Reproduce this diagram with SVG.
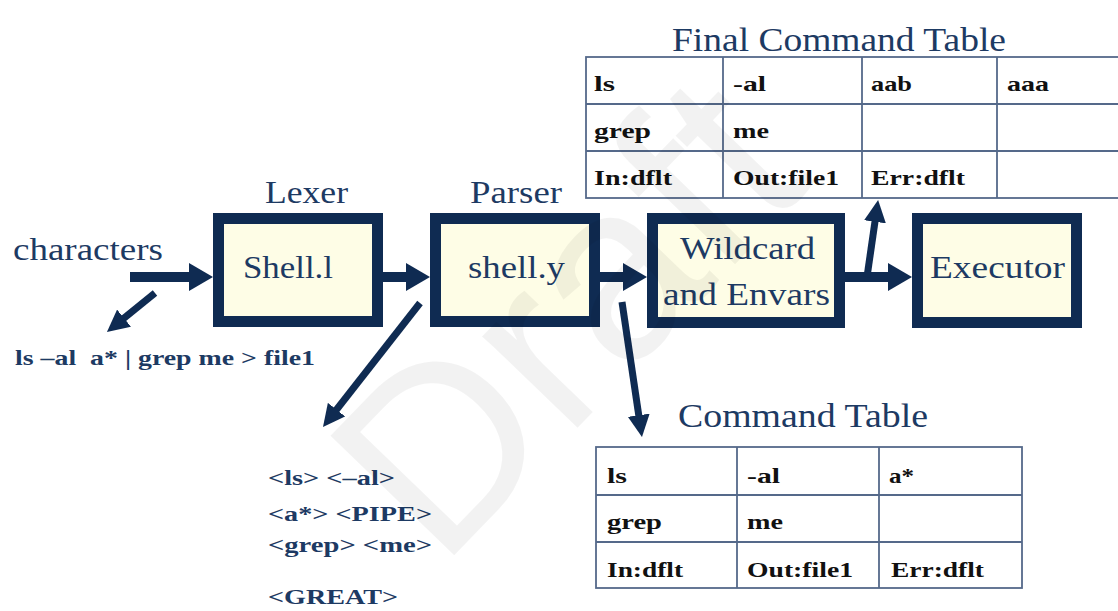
<svg xmlns="http://www.w3.org/2000/svg" width="1118" height="611" viewBox="0 0 1118 611">
<defs>
<style>
.box{fill:#fefde6;stroke:#0f2b52;stroke-width:11}
.lbl{font-family:"Liberation Serif","Times New Roman",serif;fill:#1d3a63}
.big{font-size:32px}
.ttl{font-size:31px}
.tt2{font-size:33px}
.tok{font-family:"Liberation Serif","Times New Roman",serif;font-weight:bold;font-size:22px;fill:#1d3a63}
.cell{font-family:"Liberation Serif","Times New Roman",serif;font-weight:bold;font-size:22px;fill:#111}
.grid{stroke:#55698a;stroke-width:1.8;fill:none}
.thick{stroke:#0f2b52;stroke-width:10;fill:none}
.thin{stroke:#0f2b52;stroke-width:7;fill:none}
.wm{font-family:"Liberation Sans",Arial,sans-serif;font-size:250px;fill:#000;fill-opacity:0.05}
</style>
<marker id="hbig" markerUnits="userSpaceOnUse" markerWidth="24" markerHeight="28" refX="4" refY="14" orient="auto" viewBox="0 0 24 28">
<path d="M0,0 L24,14 L0,28 z" fill="#0f2b52"/>
</marker>
<marker id="hsmall" markerUnits="userSpaceOnUse" markerWidth="22" markerHeight="22" refX="3" refY="11" orient="auto" viewBox="0 0 22 22">
<path d="M0,0 L22,11 L0,22 z" fill="#0f2b52"/>
</marker>
</defs>
<rect width="1118" height="611" fill="#ffffff"/>

<g id="final-table">
<text class="lbl tt2" x="672" y="51" textLength="334" lengthAdjust="spacingAndGlyphs">Final Command Table</text>
<rect x="586" y="57" width="540" height="141" fill="#ffffff" class="grid"/>
<line class="grid" x1="586" y1="104" x2="1118" y2="104"/>
<line class="grid" x1="586" y1="151" x2="1118" y2="151"/>
<line class="grid" x1="723" y1="57" x2="723" y2="198"/>
<line class="grid" x1="862" y1="57" x2="862" y2="198"/>
<line class="grid" x1="997" y1="57" x2="997" y2="198"/>
<text class="cell" x="594" y="91" textLength="21" lengthAdjust="spacingAndGlyphs">ls</text>
<text class="cell" x="733" y="91" textLength="33" lengthAdjust="spacingAndGlyphs">-al</text>
<text class="cell" x="871" y="91" textLength="41" lengthAdjust="spacingAndGlyphs">aab</text>
<text class="cell" x="1007" y="91" textLength="42" lengthAdjust="spacingAndGlyphs">aaa</text>
<text class="cell" x="594" y="138" textLength="57" lengthAdjust="spacingAndGlyphs">grep</text>
<text class="cell" x="733" y="138" textLength="36" lengthAdjust="spacingAndGlyphs">me</text>
<text class="cell" x="594" y="185" textLength="78" lengthAdjust="spacingAndGlyphs">In:dflt</text>
<text class="cell" x="733" y="185" textLength="106" lengthAdjust="spacingAndGlyphs">Out:file1</text>
<text class="cell" x="871" y="185" textLength="94" lengthAdjust="spacingAndGlyphs">Err:dflt</text>
</g>

<g id="command-table">
<text class="lbl tt2" x="678" y="427" textLength="250" lengthAdjust="spacingAndGlyphs">Command Table</text>
<rect x="596" y="447" width="426" height="141" fill="#ffffff" class="grid"/>
<line class="grid" x1="596" y1="495" x2="1022" y2="495"/>
<line class="grid" x1="596" y1="542" x2="1022" y2="542"/>
<line class="grid" x1="737" y1="447" x2="737" y2="588"/>
<line class="grid" x1="879" y1="447" x2="879" y2="588"/>
<text class="cell" x="607" y="483" textLength="20" lengthAdjust="spacingAndGlyphs">ls</text>
<text class="cell" x="747" y="483" textLength="33" lengthAdjust="spacingAndGlyphs">-al</text>
<text class="cell" x="889" y="483" textLength="25" lengthAdjust="spacingAndGlyphs">a*</text>
<text class="cell" x="607" y="529" textLength="55" lengthAdjust="spacingAndGlyphs">grep</text>
<text class="cell" x="747" y="529" textLength="36" lengthAdjust="spacingAndGlyphs">me</text>
<text class="cell" x="607" y="577" textLength="76" lengthAdjust="spacingAndGlyphs">In:dflt</text>
<text class="cell" x="747" y="577" textLength="106" lengthAdjust="spacingAndGlyphs">Out:file1</text>
<text class="cell" x="891" y="577" textLength="93" lengthAdjust="spacingAndGlyphs">Err:dflt</text>
</g>

<g id="characters">
<text class="lbl ttl" x="13" y="260" textLength="150" lengthAdjust="spacingAndGlyphs">characters</text>
</g>

<g id="command-line">
<text class="tok" x="15" y="365" font-size="23" textLength="300" lengthAdjust="spacingAndGlyphs" xml:space="preserve">ls –al  a* | grep me &gt; file1</text>
</g>

<g id="lexer">
<text class="lbl ttl" x="265" y="203" textLength="83" lengthAdjust="spacingAndGlyphs">Lexer</text>
<rect class="box" x="218.5" y="218.5" width="159" height="103"/>
<text class="lbl big" x="243" y="278" textLength="90" lengthAdjust="spacingAndGlyphs">Shell.l</text>
</g>

<g id="parser">
<text class="lbl ttl" x="470" y="203" textLength="92" lengthAdjust="spacingAndGlyphs">Parser</text>
<rect class="box" x="435.5" y="218.5" width="159" height="103"/>
<text class="lbl big" x="468" y="278" textLength="97" lengthAdjust="spacingAndGlyphs">shell.y</text>
</g>

<g id="wildcard">
<rect class="box" x="652.5" y="218.5" width="187" height="104"/>
<text class="lbl big" x="680" y="259" textLength="135" lengthAdjust="spacingAndGlyphs">Wildcard</text>
<text class="lbl big" x="663" y="305" textLength="167" lengthAdjust="spacingAndGlyphs">and Envars</text>
</g>

<g id="executor">
<rect class="box" x="917.5" y="218.5" width="159" height="104"/>
<text class="lbl big" x="930" y="278" textLength="135" lengthAdjust="spacingAndGlyphs">Executor</text>
</g>

<g id="tokens">
<text class="tok" x="268" y="485" textLength="127" lengthAdjust="spacingAndGlyphs">&lt;ls&gt; &lt;–al&gt;</text>
<text class="tok" x="268" y="521" textLength="164" lengthAdjust="spacingAndGlyphs">&lt;a*&gt; &lt;PIPE&gt;</text>
<text class="tok" x="268" y="552" textLength="164" lengthAdjust="spacingAndGlyphs">&lt;grep&gt; &lt;me&gt;</text>
<text class="tok" x="268" y="604" textLength="130" lengthAdjust="spacingAndGlyphs">&lt;GREAT&gt;</text>
</g>

<g id="connectors">
<line class="thick" x1="130" y1="277" x2="193" y2="277" marker-end="url(#hbig)"/>
<line class="thick" x1="383" y1="277" x2="410" y2="277" marker-end="url(#hbig)"/>
<line class="thick" x1="600" y1="277" x2="627" y2="277" marker-end="url(#hbig)"/>
<line class="thick" x1="845" y1="277" x2="892" y2="277" marker-end="url(#hbig)"/>
<line class="thin" x1="867" y1="277" x2="875.4" y2="218.8" marker-end="url(#hsmall)"/>
<line class="thin" x1="155" y1="293" x2="121.7" y2="320" marker-end="url(#hsmall)"/>
<line class="thin" x1="420" y1="303" x2="334.7" y2="412" marker-end="url(#hsmall)"/>
<line class="thin" x1="622" y1="302" x2="639.2" y2="418.2" marker-end="url(#hsmall)"/>
</g>

<g id="watermark">
<text class="wm" x="440" y="570" transform="rotate(-46 440 570)">Draft</text>
</g>
</svg>
